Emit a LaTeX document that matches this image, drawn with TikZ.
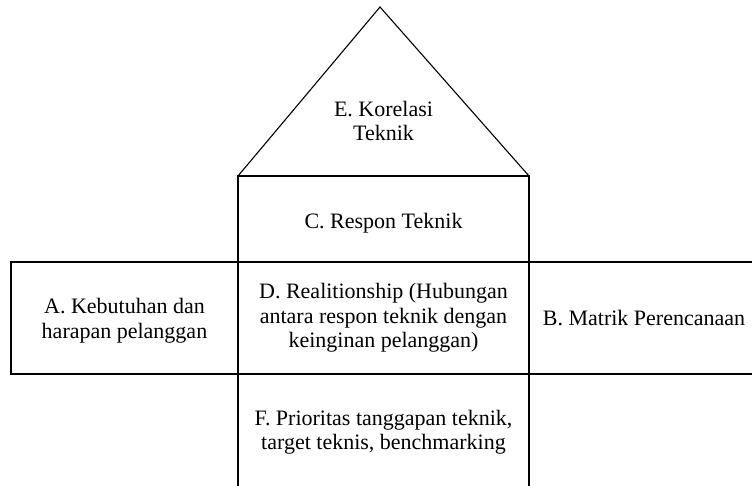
\documentclass[tikz,border=0pt]{standalone}
\usepackage{fontspec}
\setmainfont{Liberation Serif}
\usetikzlibrary{positioning}

\begin{document}
\begin{tikzpicture}[x=1pt, y=-1pt,
    kotak/.style={rectangle, draw=black, line width=1.1pt, outer sep=0pt, inner sep=0pt},
    teks/.style={align=center, inner sep=0pt, font=\fontsize{22}{24.5}\selectfont},
    atap/.style={draw=black, line width=1.1pt, line join=miter}
  ]
    \useasboundingbox (0,0) rectangle (752,485);
    \clip (0,0) rectangle (752,485);

    % kotak-kotak rumah
    \node[kotak, minimum width=291pt, minimum height=112pt] (relasi) at (383.5,318) {};
    \node[kotak, minimum width=291pt, minimum height=86pt, above=0pt of relasi] (respon) {};
    \node[kotak, minimum width=227pt, minimum height=112pt, left=0pt of relasi] (kebutuhan) {};
    \node[kotak, minimum width=230pt, minimum height=112pt, right=0pt of relasi] (matrik) {};
    \node[kotak, minimum width=291pt, minimum height=118pt, below=0pt of relasi] (prioritas) {};

    % atap (roof)
    \coordinate (puncak) at (380,7);
    \draw[atap] (respon.north west) -- (puncak) -- (respon.north east);

    % tulisan
    \node[teks] (tkorelasi) at (383.5,121) {E. Korelasi\\Teknik};
    \node[teks, yshift=-4pt] (trespon) at (respon) {C. Respon Teknik};
    \node[teks] (trelasi) at (relasi) {D. Realitionship (Hubungan\\antara respon teknik dengan\\keinginan pelanggan)};
    \node[teks, yshift=-2.5pt] (tkebutuhan) at (kebutuhan) {A. Kebutuhan dan\\harapan pelanggan};
    \node[teks] (tmatrik) at (matrik) {B. Matrik Perencanaan};
    \node[teks] (tprioritas) at (383.5,432) {F. Prioritas tanggapan teknik,\\target teknis, benchmarking};
  \end{tikzpicture}
\end{document}
